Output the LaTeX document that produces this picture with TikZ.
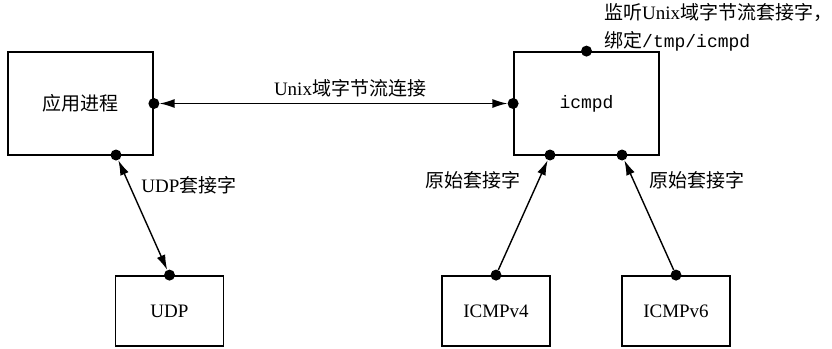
\documentclass[tikz,border=0pt]{standalone}
\usepackage{fontspec}
\setmainfont{Liberation Serif}
\setmonofont{Liberation Mono}
\newfontfamily\cjk{Noto Sans CJK SC}
\usetikzlibrary{arrows.meta}
\begin{document}
\begin{tikzpicture}[x=1pt,y=-1pt,
  box/.style={draw, line width=1.8pt, inner sep=0pt, minimum width=#1},
  bigbox/.style={box=145pt, minimum height=103pt},
  smallbox/.style={box=108pt, minimum height=70pt},
  dot/.style={circle, fill, inner sep=0pt, minimum size=11pt},
  conn/.style={line width=1.4pt, -{Latex[length=15pt,width=9pt]}},
  bconn/.style={line width=1.4pt, {Latex[length=15pt,width=9pt]}-{Latex[length=15pt,width=9pt]}},
  lbl/.style={font=\fontsize{19}{28}\selectfont, inner sep=0pt},
  txt/.style={font=\fontsize{19}{28}\selectfont},
  mono/.style={font=\fontsize{18}{28}\selectfont\ttfamily}
]
\useasboundingbox (0,0) rectangle (832,348);
% boxes
\node[bigbox, txt] (app) at (80.5,103.5) {\cjk 应用进程};
\node[bigbox, mono] (icmpd) at (586.5,103.5) {icmpd};
\node[smallbox, txt] (udp) at (169.5,311) {UDP};
\node[smallbox, txt] (v4) at (496,311) {ICMPv4};
\node[smallbox, txt] (v6) at (676,311) {ICMPv6};
% dots
\node[dot] (appR) at (app.east) {};
\node[dot] (appB) at (116,155) {};
\node[dot] (icL) at (icmpd.west) {};
\node[dot] (icT) at (icmpd.north) {};
\node[dot] (icB1) at (550,155) {};
\node[dot] (icB2) at (622,155) {};
\node[dot] (udpT) at (udp.north) {};
\node[dot] (v4T) at (v4.north) {};
\node[dot] (v6T) at (v6.north) {};
% connectors
\draw[bconn] (appR) -- (icL);
\draw[bconn] (appB) -- (udpT);
\draw[conn] (v4T) -- (icB1);
\draw[conn] (v6T) -- (icB2);
% labels
\node[lbl] (lunix) at (350,88) {Unix{\cjk 域字节流连接}};
\node[lbl] (ludp) at (189,185) {UDP{\cjk 套接字}};
\node[lbl] (lraw1) at (473,180) {\cjk 原始套接字};
\node[lbl] (lraw2) at (697,180) {\cjk 原始套接字};
\node[lbl, align=left, anchor=north west] (llisten) at (604,3)
  {{\cjk 监听}Unix{\cjk 域字节流套接字，}\\{\cjk 绑定}{\fontsize{18}{28}\selectfont\ttfamily /tmp/icmpd}};
\end{tikzpicture}
\end{document}
